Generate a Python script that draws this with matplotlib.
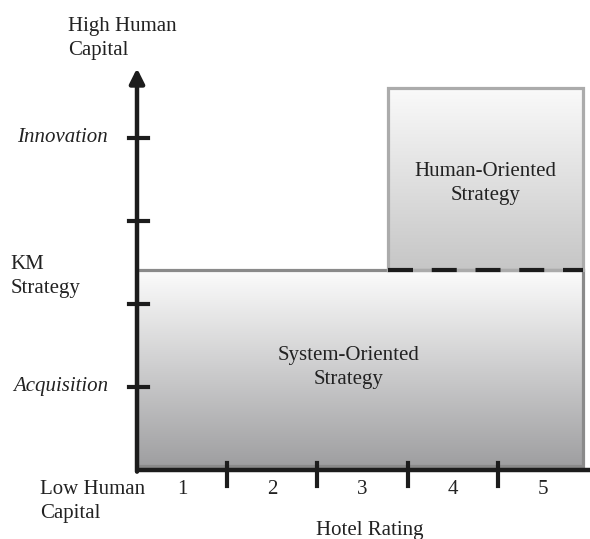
import numpy as np
import matplotlib
matplotlib.use("Agg")
import matplotlib.pyplot as plt
from matplotlib.colors import LinearSegmentedColormap

plt.rcParams['font.family'] = ['Liberation Serif', 'DejaVu Serif']

# ------------- data -------------
ratings = ['1', '2', '3', '4', '5']
rating_ticks = [1, 2, 3, 4]
level_ticks = [1, 2, 3, 4]
level_labels = {1: 'Acquisition', 4: 'Innovation'}

# regions: (x0, x1, y0, y1)
system_box = (0.0, 4.95, 0.05, 2.41)
human_box = (2.78, 4.95, 2.41, 4.6)
km_split = 2.41
y_arrow_top = 4.84

fig = plt.figure(figsize=(5.9, 5.39), dpi=100)
ax = fig.add_axes([0, 0, 1, 1])
ax.set_axis_off()

AXC = '#1c1c1c'
TXT = '#222222'
LS = 1.35


def gradient_box(box, c_top, c_bot, edge):
    x0, x1, y0, y1 = box
    cmap = LinearSegmentedColormap.from_list('g', [c_bot, c_top])
    grad = np.linspace(1, 0, 256).reshape(-1, 1)
    ax.imshow(grad, cmap=cmap, extent=(x0, x1, y0, y1), aspect='auto',
              vmin=0, vmax=1, zorder=1)
    ax.plot([x0, x1, x1, x0, x0], [y0, y0, y1, y1, y0], color=edge,
            lw=2.3, zorder=2, solid_joinstyle='miter')


gradient_box(system_box, '#fcfcfc', '#9f9fa1', '#8a8a8a')
gradient_box(human_box, '#fafafa', '#c6c6c6', '#ababab')

# dashed boundary between the strategies
ax.plot([human_box[0], human_box[1]], [km_split, km_split], color=AXC,
        lw=3, dashes=(6, 4.5), zorder=3)

# axes
ax.plot([0, 5.05], [0, 0], color=AXC, lw=3.2, zorder=4, solid_capstyle='butt')
ax.annotate('', xy=(0, y_arrow_top), xytext=(0, -0.02),
            arrowprops=dict(arrowstyle='-|>', lw=3.2, color=AXC,
                            mutation_scale=22, shrinkA=0, shrinkB=0),
            zorder=4)

for t in rating_ticks:
    ax.plot([t, t], [-0.19, 0.08], color=AXC, lw=3, zorder=4)
for t in level_ticks:
    ax.plot([-0.09, 0.12], [t, t], color=AXC, lw=3, zorder=4)

for i, r in enumerate(ratings):
    ax.text(i + 0.5, -0.24, r, ha='center', va='center', fontsize=15,
            color=TXT)

for t, lab in level_labels.items():
    ax.text(-0.32, t, lab, ha='right', va='center', fontsize=15,
            style='italic', color=TXT)

ax.text(-0.765, 5.2, 'High Human\nCapital', ha='left', va='center',
        fontsize=15, color=TXT, linespacing=LS)
ax.text(-1.40, 2.33, 'KM\nStrategy', ha='left', va='center',
        fontsize=15, color=TXT, linespacing=LS)
ax.text(-1.075, -0.38, 'Low Human\nCapital', ha='left', va='center',
        fontsize=15, color=TXT, linespacing=LS)
ax.text(2.58, -0.73, 'Hotel Rating', ha='center', va='center',
        fontsize=15, color=TXT)

ax.text(2.35, 1.24, 'System-Oriented\nStrategy', ha='center', va='center',
        fontsize=15, color=TXT, linespacing=LS, zorder=5)
ax.text(3.86, 3.45, 'Human-Oriented\nStrategy', ha='center', va='center',
        fontsize=15, color=TXT, linespacing=LS, zorder=5)

ax.set_xlim(-137 / 90.2, 453 / 90.2)
ax.set_ylim(-69 / 83, 470 / 83)

fig.savefig('out.png', dpi=100)
